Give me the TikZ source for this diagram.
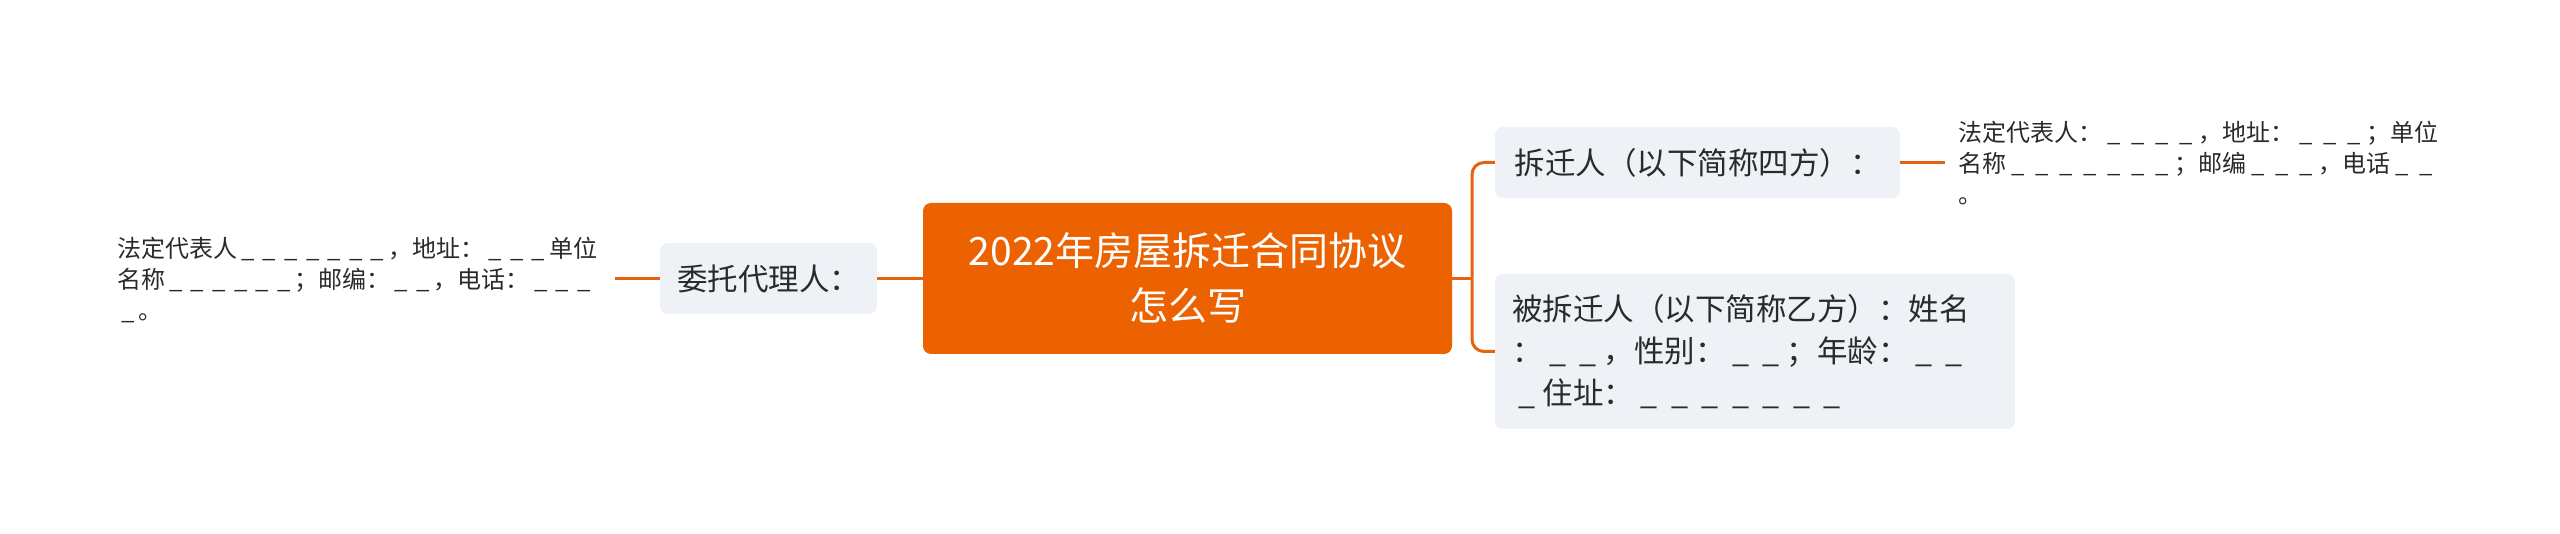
\documentclass[tikz,border=0pt]{standalone}
\usepackage{fontspec}
\setmainfont{Noto Sans CJK SC}
\definecolor{orgfill}{HTML}{EC6200}
\definecolor{orgline}{HTML}{E5620E}
\definecolor{greyfill}{HTML}{EEF1F5}
\definecolor{txt}{HTML}{2A2A2A}
\newcommand\ud{\makebox[0.9em][c]{\_}}
\newcommand\uD{\makebox[1em][c]{\_}}
\newcommand\ms{\rule[-0.12em]{0pt}{1em}}
\tikzset{
  rootbox/.style={fill=orgfill, rounded corners=8pt, text=white, align=center,
    font=\fontsize{39}{55}\selectfont, minimum width=529pt, minimum height=151pt, inner sep=0pt},
  subbox/.style={fill=greyfill, rounded corners=8pt, text=txt,
    font=\fontsize{30.5}{42}\selectfont, minimum height=71pt, inner sep=0pt},
  leaftext/.style={text=txt, align=left, font=\fontsize{24}{31}\selectfont, inner sep=0pt},
  conn/.style={draw=orgline, line width=3pt}
}
\begin{document}
\begin{tikzpicture}[x=1pt,y=-1pt]
\useasboundingbox (0,0) rectangle (2560,534);
\node[rootbox] (root) at (1187.5,278.5) {\ms 2022年房屋拆迁合同协议\\\ms 怎么写};
\node[subbox, minimum width=217pt] (wt) at (768.5,278.5) {\ms 委托代理人：};
\node[subbox, minimum width=405pt] (cq) at (1697.5,162.5) {\ms 拆迁人（以下简称四方）：};
\node[subbox, minimum width=520pt, minimum height=155pt, text width=486pt, inner xsep=17pt, align=left] (bcq) at (1755,351.5)
  {\ms 被拆迁人（以下简称乙方）：姓名\\
   \ms ：\uD\uD，性别：\uD\uD；年龄：\uD\uD\\
   \ms\uD 住址：\uD\uD\uD\uD\uD\uD\uD};
\node[leaftext, anchor=west, text width=483pt] (lfL) at (117,279.5)
  {\ms 法定代表人\ud\ud\ud\ud\ud\ud\ud，地址：\ud\ud\ud 单位\\
   \ms 名称\ud\ud\ud\ud\ud\ud；邮编：\ud\ud，电话：\ud\ud\ud\\
   \ms\ud 。};
\node[leaftext, anchor=west, text width=483pt] (lfR) at (1958,163)
  {\ms 法定代表人：\uD\uD\uD\uD，地址：\uD\uD\uD；单位\\
   \ms 名称\uD\uD\uD\uD\uD\uD\uD；邮编\uD\uD\uD，电话\uD\uD\\
   \ms 。};
\coordinate (lA) at (615,278.5);
\coordinate (rA) at (1945,162.5);
\coordinate (j) at (1472,278.5);
\draw[conn] (root.west) -- (wt.east);
\draw[conn] (wt.west) -- (lA);
\draw[conn] (root.east) -- (j);
\draw[conn, rounded corners=12pt] (j) |- (cq.west);
\draw[conn, rounded corners=12pt] (j) |- (bcq.west);
\draw[conn] (cq.east) -- (rA);
\end{tikzpicture}
\end{document}
